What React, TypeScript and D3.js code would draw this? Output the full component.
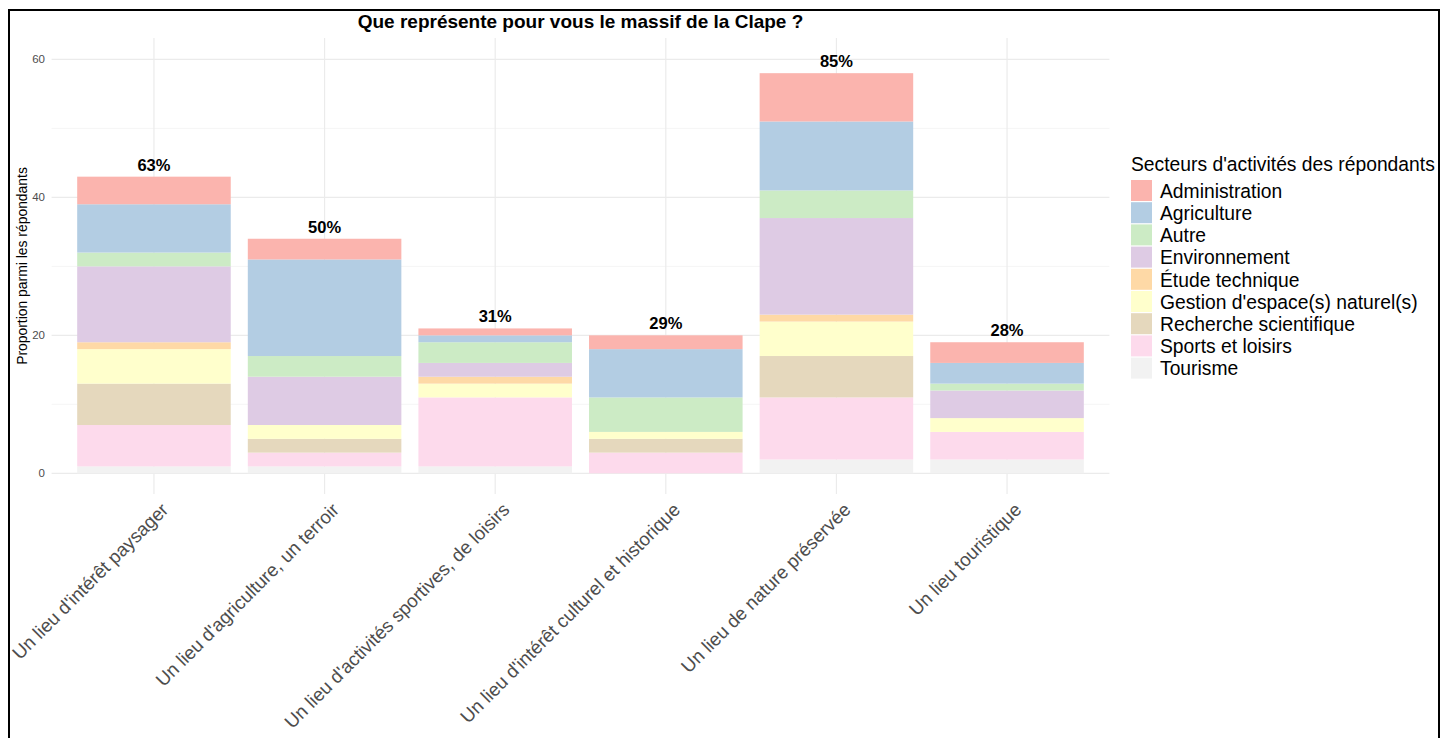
import React, { useEffect, useRef } from "react";
import * as d3 from "d3";

// catégories (axe x)
const CATEGORIES = [
  "Un lieu d'intérêt paysager",
  "Un lieu d'agriculture, un terroir",
  "Un lieu d'activités sportives, de loisirs",
  "Un lieu d'intérêt culturel et historique",
  "Un lieu de nature préservée",
  "Un lieu touristique",
];

const SECTORS = [
  "Administration",
  "Agriculture",
  "Autre",
  "Environnement",
  "Étude technique",
  "Gestion d'espace(s) naturel(s)",
  "Recherche scientifique",
  "Sports et loisirs",
  "Tourisme",
];

// valeurs par secteur, dans l'ordre des catégories
const ADMINISTRATION = [4, 3, 1, 2, 7, 3];
const AGRICULTURE = [7, 14, 1, 7, 10, 3];
const AUTRE = [2, 3, 3, 5, 4, 1];
const ENVIRONNEMENT = [11, 7, 2, 0, 14, 4];
const ETUDE = [1, 0, 1, 0, 1, 0];
const GESTION = [5, 2, 2, 1, 5, 2];
const RECHERCHE = [6, 2, 0, 2, 6, 0];
const SPORTS = [6, 2, 10, 3, 9, 4];
const TOURISME = [1, 1, 1, 0, 2, 2];

const PCT_LABELS = ["63%", "50%", "31%", "29%", "85%", "28%"];
const Y_TICKS = [0, 20, 40, 60];
const Y_MINOR = [10, 30, 50];

const COLORS = d3.schemePastel1;
const FONT = "'Liberation Sans', Arial, Helvetica, sans-serif";

const W = 1453;
const H = 738;
const PANEL = { left: 51.6, right: 1109.4, top: 38, bottom: 494 };

export default function App() {
  const svgRef = useRef<SVGSVGElement | null>(null);

  useEffect(() => {
    if (!svgRef.current) return;
    const svg = d3.select(svgRef.current);
    svg.selectAll("*").remove();

    const series = [
      ADMINISTRATION,
      AGRICULTURE,
      AUTRE,
      ENVIRONNEMENT,
      ETUDE,
      GESTION,
      RECHERCHE,
      SPORTS,
      TOURISME,
    ];

    const rows = CATEGORIES.map((cat, i) => {
      const row: Record<string, number | string> = { cat };
      SECTORS.forEach((s, k) => (row[s] = series[k][i]));
      return row;
    });

    // Tourisme en bas, Administration en haut
    const stack = d3
      .stack<Record<string, number | string>>()
      .keys([...SECTORS].reverse())
      .value((d, key) => d[key] as number);
    const stacked = stack(rows);

    // échelle discrète façon ggplot : 0.6 d'expansion de chaque côté
    const x = d3
      .scalePoint()
      .domain(CATEGORIES)
      .range([PANEL.left, PANEL.right])
      .padding(0.6);
    const cx = (i: number) => x(CATEGORIES[i]) as number;
    const bw = x.step() * 0.9;

    const y = d3.scaleLinear().domain([-3.0, 63.1]).range([PANEL.bottom, PANEL.top]);

    // cadre noir
    svg
      .append("rect")
      .attr("x", 9)
      .attr("y", 10)
      .attr("width", 1430)
      .attr("height", 740)
      .attr("fill", "none")
      .attr("stroke", "#000")
      .attr("stroke-width", 2);

    const grid = svg.append("g");
    Y_MINOR.forEach((v) =>
      grid
        .append("line")
        .attr("x1", PANEL.left)
        .attr("x2", PANEL.right)
        .attr("y1", y(v))
        .attr("y2", y(v))
        .attr("stroke", "#f2f2f2")
        .attr("stroke-width", 0.8)
    );
    Y_TICKS.forEach((v) =>
      grid
        .append("line")
        .attr("x1", PANEL.left)
        .attr("x2", PANEL.right)
        .attr("y1", y(v))
        .attr("y2", y(v))
        .attr("stroke", "#ebebeb")
        .attr("stroke-width", 1.2)
    );
    CATEGORIES.forEach((_, i) =>
      grid
        .append("line")
        .attr("x1", cx(i))
        .attr("x2", cx(i))
        .attr("y1", PANEL.top)
        .attr("y2", PANEL.bottom)
        .attr("stroke", "#ebebeb")
        .attr("stroke-width", 1.2)
    );

    // barres empilées
    stacked.forEach((layer) => {
      const color = COLORS[SECTORS.indexOf(layer.key)];
      svg
        .append("g")
        .selectAll("rect")
        .data(layer)
        .join("rect")
        .attr("x", (_, i) => cx(i) - bw / 2)
        .attr("width", bw)
        .attr("y", (d) => y(d[1]))
        .attr("height", (d) => y(d[0]) - y(d[1]))
        .attr("fill", color);
    });

    // étiquettes de pourcentage
    const totals = rows.map((r) => d3.sum(SECTORS, (s) => r[s] as number));
    svg
      .append("g")
      .selectAll("text")
      .data(PCT_LABELS)
      .join("text")
      .attr("x", (_, i) => cx(i))
      .attr("y", (_, i) => y(totals[i]) - 6)
      .attr("text-anchor", "middle")
      .attr("font-family", FONT)
      .attr("font-weight", "bold")
      .attr("font-size", 16.5)
      .attr("fill", "#000")
      .text((d) => d);

    // axe y
    svg
      .append("g")
      .selectAll("text")
      .data(Y_TICKS)
      .join("text")
      .attr("x", 45)
      .attr("y", (d) => y(d))
      .attr("dy", "0.35em")
      .attr("text-anchor", "end")
      .attr("font-family", FONT)
      .attr("font-size", 11.5)
      .attr("fill", "#4d4d4d")
      .text((d) => d);

    svg
      .append("text")
      .attr("transform", `translate(26.5,${(PANEL.top + PANEL.bottom) / 2}) rotate(-90)`)
      .attr("text-anchor", "middle")
      .attr("font-family", FONT)
      .attr("font-size", 13.9)
      .attr("fill", "#000")
      .text("Proportion parmi les répondants");

    // axe x
    svg
      .append("g")
      .selectAll("text")
      .data(CATEGORIES)
      .join("text")
      .attr("transform", (_, i) => `translate(${cx(i) + 15.5},${PANEL.bottom + 17}) rotate(-45)`)
      .attr("text-anchor", "end")
      .attr("font-family", FONT)
      .attr("font-size", 18.7)
      .attr("fill", "#4d4d4d")
      .text((d) => d);

    // titre
    svg
      .append("text")
      .attr("x", (PANEL.left + PANEL.right) / 2)
      .attr("y", 27.5)
      .attr("text-anchor", "middle")
      .attr("font-family", FONT)
      .attr("font-weight", "bold")
      .attr("font-size", 19)
      .attr("fill", "#000")
      .text("Que représente pour vous le massif de la Clape ?");

    // légende
    const legend = svg.append("g").attr("transform", "translate(1131,0)");
    legend
      .append("text")
      .attr("x", 0)
      .attr("y", 171)
      .attr("font-family", FONT)
      .attr("font-size", 19.3)
      .attr("fill", "#000")
      .text("Secteurs d'activités des répondants");
    SECTORS.forEach((s, k) => {
      const g = legend.append("g").attr("transform", `translate(0,${180 + k * 22.2})`);
      g.append("rect")
        .attr("width", 21)
        .attr("height", 21)
        .attr("fill", COLORS[k]);
      g.append("text")
        .attr("x", 29)
        .attr("y", 11)
        .attr("dy", "0.35em")
        .attr("font-family", FONT)
        .attr("font-size", 19.3)
        .attr("fill", "#000")
        .text(s);
    });
  }, []);

  return (
    <svg
      ref={svgRef}
      width={W}
      height={H}
      style={{ position: "absolute", left: 0, top: 0, background: "#fff" }}
    />
  );
}
